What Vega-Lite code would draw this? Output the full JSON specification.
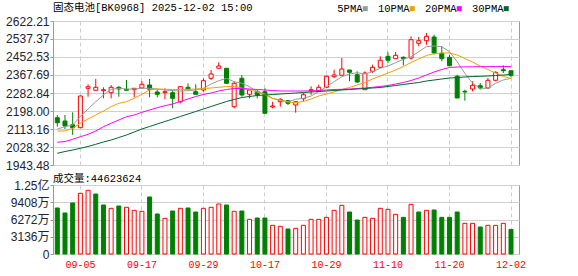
{
  "$schema": "https://vega.github.io/schema/vega-lite/v6.json",
  "padding": {"left": 5, "top": 2, "right": 0, "bottom": 0},
  "background": "white",
  "spacing": 1,
  "datasets": {
    "k": [
      {"d":"09-02","o":2166.4,"h":2179.2,"l":2124.0,"c":2142.8,"v":8363,"vd":"d","5PMA":2113.2,"10PMA":2103.7,"20PMA":2050.5,"30PMA":1998.6},
      {"d":"09-03","o":2150.9,"h":2179.2,"l":2113.2,"c":2127.3,"v":7454,"vd":"d","5PMA":2124.0,"10PMA":2103.7,"20PMA":2054.2,"30PMA":2007.1},
      {"d":"09-04","o":2133.4,"h":2191.9,"l":2084.9,"c":2119.3,"v":9272,"vd":"d","5PMA":2132.0,"10PMA":2116.5,"20PMA":2064.6,"30PMA":2014.2},
      {"d":"09-05","o":2119.3,"h":2271.0,"l":2117.9,"c":2268.7,"v":11030,"vd":"u","5PMA":2171.1,"10PMA":2140.0,"20PMA":2076.9,"30PMA":2022.2},
      {"d":"09-08","o":2305.0,"h":2323.9,"l":2265.4,"c":2312.5,"v":11575,"vd":"u","5PMA":2207.4,"10PMA":2160.3,"20PMA":2088.2,"30PMA":2030.7},
      {"d":"09-09","o":2295.6,"h":2348.8,"l":2295.6,"c":2309.7,"v":10908,"vd":"d","5PMA":2241.8,"10PMA":2179.2,"20PMA":2103.7,"30PMA":2041.1},
      {"d":"09-10","o":2293.7,"h":2309.7,"l":2257.8,"c":2298.4,"v":8908,"vd":"d","5PMA":2273.4,"10PMA":2198.0,"20PMA":2124.0,"30PMA":2051.9},
      {"d":"09-11","o":2284.2,"h":2320.5,"l":2257.8,"c":2309.7,"v":8302,"vd":"u","5PMA":2300.3,"10PMA":2218.3,"20PMA":2140.0,"30PMA":2061.3},
      {"d":"09-12","o":2309.7,"h":2315.8,"l":2265.4,"c":2301.7,"v":8726,"vd":"d","5PMA":2305.0,"10PMA":2234.3,"20PMA":2155.6,"30PMA":2073.1},
      {"d":"09-15","o":2300.3,"h":2344.1,"l":2295.0,"c":2295.6,"v":8484,"vd":"u","5PMA":2301.7,"10PMA":2241.8,"20PMA":2171.1,"30PMA":2084.9},
      {"d":"09-16","o":2298.4,"h":2305.0,"l":2262.6,"c":2305.0,"v":7939,"vd":"u","5PMA":2301.7,"10PMA":2257.9,"20PMA":2179.2,"30PMA":2099.0},
      {"d":"09-17","o":2306.4,"h":2339.4,"l":2306.0,"c":2323.9,"v":7757,"vd":"u","5PMA":2305.0,"10PMA":2276.7,"20PMA":2191.9,"30PMA":2113.2},
      {"d":"09-18","o":2320.5,"h":2348.8,"l":2262.6,"c":2300.3,"v":10363,"vd":"d","5PMA":2305.0,"10PMA":2297.0,"20PMA":2202.7,"30PMA":2124.9},
      {"d":"09-19","o":2287.6,"h":2298.4,"l":2262.6,"c":2276.7,"v":7272,"vd":"d","5PMA":2301.7,"10PMA":2301.7,"20PMA":2213.6,"30PMA":2136.7},
      {"d":"09-22","o":2284.2,"h":2305.0,"l":2253.1,"c":2288.9,"v":6484,"vd":"u","5PMA":2297.0,"10PMA":2300.3,"20PMA":2223.0,"30PMA":2148.5},
      {"d":"09-23","o":2284.2,"h":2297.0,"l":2210.7,"c":2257.8,"v":7817,"vd":"d","5PMA":2293.7,"10PMA":2299.3,"20PMA":2231.0,"30PMA":2160.3},
      {"d":"09-24","o":2241.8,"h":2315.8,"l":2234.3,"c":2312.5,"v":8302,"vd":"u","5PMA":2292.3,"10PMA":2299.3,"20PMA":2242.8,"30PMA":2172.1},
      {"d":"09-25","o":2309.7,"h":2328.6,"l":2301.7,"c":2301.7,"v":8363,"vd":"d","5PMA":2293.7,"10PMA":2300.3,"20PMA":2254.6,"30PMA":2183.9},
      {"d":"09-26","o":2288.9,"h":2323.9,"l":2276.7,"c":2276.7,"v":7636,"vd":"d","5PMA":2297.0,"10PMA":2301.7,"20PMA":2266.4,"30PMA":2195.6},
      {"d":"09-29","o":2297.0,"h":2352.1,"l":2288.9,"c":2340.8,"v":8302,"vd":"u","5PMA":2305.0,"10PMA":2304.1,"20PMA":2275.8,"30PMA":2207.4},
      {"d":"09-30","o":2352.1,"h":2391.2,"l":2344.1,"c":2372.4,"v":8484,"vd":"u","5PMA":2325.3,"10PMA":2306.4,"20PMA":2282.8,"30PMA":2219.2},
      {"d":"10-09","o":2399.3,"h":2427.5,"l":2399.0,"c":2410.1,"v":9090,"vd":"u","5PMA":2340.8,"10PMA":2309.7,"20PMA":2292.3,"30PMA":2231.0},
      {"d":"10-10","o":2399.3,"h":2401.0,"l":2325.3,"c":2328.6,"v":8908,"vd":"d","5PMA":2352.1,"10PMA":2313.5,"20PMA":2299.3,"30PMA":2242.8},
      {"d":"10-13","o":2218.3,"h":2336.1,"l":2210.7,"c":2328.6,"v":7757,"vd":"u","5PMA":2336.1,"10PMA":2313.5,"20PMA":2304.1,"30PMA":2252.2},
      {"d":"10-14","o":2352.1,"h":2367.7,"l":2265.4,"c":2273.4,"v":7817,"vd":"d","5PMA":2328.6,"10PMA":2306.4,"20PMA":2304.1,"30PMA":2261.6},
      {"d":"10-15","o":2276.7,"h":2297.0,"l":2257.8,"c":2297.0,"v":6303,"vd":"u","5PMA":2312.5,"10PMA":2297.0,"20PMA":2301.7,"30PMA":2266.4},
      {"d":"10-16","o":2288.9,"h":2297.0,"l":2257.8,"c":2273.4,"v":6545,"vd":"d","5PMA":2289.0,"10PMA":2287.6,"20PMA":2299.3,"30PMA":2271.1},
      {"d":"10-17","o":2288.9,"h":2305.0,"l":2186.0,"c":2187.2,"v":6545,"vd":"d","5PMA":2278.1,"10PMA":2273.4,"20PMA":2297.0,"30PMA":2273.4},
      {"d":"10-20","o":2216.8,"h":2241.8,"l":2210.7,"c":2221.6,"v":5212,"vd":"u","5PMA":2257.9,"10PMA":2256.9,"20PMA":2294.6,"30PMA":2275.8},
      {"d":"10-21","o":2241.8,"h":2257.8,"l":2218.3,"c":2253.1,"v":5030,"vd":"u","5PMA":2249.9,"10PMA":2247.5,"20PMA":2292.3,"30PMA":2278.1},
      {"d":"10-22","o":2246.5,"h":2249.8,"l":2226.3,"c":2234.3,"v":4545,"vd":"d","5PMA":2241.8,"10PMA":2240.4,"20PMA":2292.3,"30PMA":2280.5},
      {"d":"10-23","o":2226.3,"h":2243.0,"l":2190.0,"c":2241.8,"v":4666,"vd":"u","5PMA":2253.2,"10PMA":2237.1,"20PMA":2292.3,"30PMA":2282.8},
      {"d":"10-24","o":2256.0,"h":2282.8,"l":2243.7,"c":2274.8,"v":5212,"vd":"u","5PMA":2257.9,"10PMA":2242.8,"20PMA":2292.3,"30PMA":2285.2},
      {"d":"10-27","o":2293.7,"h":2314.4,"l":2274.8,"c":2298.4,"v":6303,"vd":"u","5PMA":2268.7,"10PMA":2254.6,"20PMA":2292.3,"30PMA":2287.6},
      {"d":"10-28","o":2293.7,"h":2322.0,"l":2290.8,"c":2309.7,"v":6303,"vd":"u","5PMA":2289.0,"10PMA":2268.7,"20PMA":2294.6,"30PMA":2289.9},
      {"d":"10-29","o":2309.7,"h":2364.4,"l":2306.4,"c":2361.6,"v":6666,"vd":"u","5PMA":2312.5,"10PMA":2278.1,"20PMA":2297.0,"30PMA":2292.3},
      {"d":"10-30","o":2359.7,"h":2392.7,"l":2353.5,"c":2367.7,"v":7939,"vd":"u","5PMA":2336.1,"10PMA":2287.6,"20PMA":2299.3,"30PMA":2294.6},
      {"d":"10-31","o":2366.3,"h":2447.8,"l":2366.0,"c":2396.0,"v":8847,"vd":"u","5PMA":2359.7,"10PMA":2299.3,"20PMA":2300.3,"30PMA":2297.0},
      {"d":"11-03","o":2391.2,"h":2391.2,"l":2338.0,"c":2380.4,"v":7636,"vd":"d","5PMA":2372.4,"10PMA":2308.8,"20PMA":2301.7,"30PMA":2299.3},
      {"d":"11-04","o":2369.1,"h":2385.1,"l":2330.0,"c":2334.7,"v":6181,"vd":"d","5PMA":2378.5,"10PMA":2320.6,"20PMA":2304.1,"30PMA":2301.7},
      {"d":"11-05","o":2298.4,"h":2385.1,"l":2298.0,"c":2377.1,"v":6666,"vd":"u","5PMA":2372.4,"10PMA":2332.3,"20PMA":2306.4,"30PMA":2304.1},
      {"d":"11-06","o":2385.1,"h":2416.2,"l":2377.1,"c":2404.0,"v":6484,"vd":"u","5PMA":2383.2,"10PMA":2348.8,"20PMA":2309.7,"30PMA":2306.4},
      {"d":"11-07","o":2404.0,"h":2455.8,"l":2400.7,"c":2437.0,"v":8302,"vd":"u","5PMA":2399.3,"10PMA":2363.0,"20PMA":2313.5,"30PMA":2308.8},
      {"d":"11-10","o":2455.8,"h":2474.7,"l":2424.0,"c":2437.0,"v":8120,"vd":"u","5PMA":2410.1,"10PMA":2377.1,"20PMA":2318.2,"30PMA":2313.5},
      {"d":"11-11","o":2444.5,"h":2476.1,"l":2444.0,"c":2460.5,"v":7212,"vd":"u","5PMA":2425.7,"10PMA":2391.3,"20PMA":2325.3,"30PMA":2318.2},
      {"d":"11-12","o":2451.1,"h":2455.8,"l":2413.4,"c":2444.5,"v":6666,"vd":"d","5PMA":2441.7,"10PMA":2407.8,"20PMA":2332.3,"30PMA":2322.9},
      {"d":"11-13","o":2447.8,"h":2550.1,"l":2439.8,"c":2534.1,"v":9029,"vd":"u","5PMA":2453.9,"10PMA":2426.6,"20PMA":2341.8,"30PMA":2327.6},
      {"d":"11-14","o":2517.1,"h":2546.8,"l":2503.0,"c":2529.4,"v":7636,"vd":"d","5PMA":2477.5,"10PMA":2443.1,"20PMA":2353.5,"30PMA":2332.3},
      {"d":"11-17","o":2529.4,"h":2565.6,"l":2510.5,"c":2550.1,"v":7939,"vd":"u","5PMA":2501.1,"10PMA":2459.6,"20PMA":2367.7,"30PMA":2339.4},
      {"d":"11-18","o":2546.8,"h":2557.6,"l":2463.4,"c":2471.4,"v":8000,"vd":"d","5PMA":2504.4,"10PMA":2469.0,"20PMA":2381.8,"30PMA":2344.1},
      {"d":"11-19","o":2470.0,"h":2503.0,"l":2432.3,"c":2444.5,"v":6666,"vd":"d","5PMA":2501.1,"10PMA":2471.4,"20PMA":2393.6,"30PMA":2348.8},
      {"d":"11-20","o":2451.1,"h":2463.4,"l":2411.0,"c":2411.5,"v":6666,"vd":"d","5PMA":2477.5,"10PMA":2471.4,"20PMA":2403.0,"30PMA":2353.5},
      {"d":"11-21","o":2361.6,"h":2369.1,"l":2259.0,"c":2259.3,"v":7636,"vd":"d","5PMA":2430.4,"10PMA":2462.0,"20PMA":2405.4,"30PMA":2355.9},
      {"d":"11-24","o":2290.8,"h":2298.4,"l":2246.5,"c":2287.6,"v":5575,"vd":"u","5PMA":2375.7,"10PMA":2445.5,"20PMA":2406.0,"30PMA":2358.3},
      {"d":"11-25","o":2301.7,"h":2338.0,"l":2290.8,"c":2319.1,"v":5575,"vd":"u","5PMA":2328.6,"10PMA":2429.0,"20PMA":2406.5,"30PMA":2360.6},
      {"d":"11-26","o":2317.2,"h":2330.0,"l":2298.4,"c":2306.4,"v":4909,"vd":"d","5PMA":2305.0,"10PMA":2410.1,"20PMA":2407.0,"30PMA":2361.6},
      {"d":"11-27","o":2306.4,"h":2353.5,"l":2303.1,"c":2342.7,"v":5212,"vd":"u","5PMA":2305.0,"10PMA":2393.6,"20PMA":2407.0,"30PMA":2363.0},
      {"d":"11-28","o":2342.7,"h":2385.1,"l":2338.0,"c":2380.4,"v":5212,"vd":"u","5PMA":2328.6,"10PMA":2377.1,"20PMA":2407.5,"30PMA":2365.3},
      {"d":"12-01","o":2392.7,"h":2413.4,"l":2377.1,"c":2388.0,"v":5575,"vd":"u","5PMA":2344.1,"10PMA":2360.6,"20PMA":2407.5,"30PMA":2367.7},
      {"d":"12-02","o":2388.0,"h":2388.0,"l":2356.8,"c":2366.3,"v":4462.36,"vd":"d","5PMA":2352.1,"10PMA":2351.2,"20PMA":2407.5,"30PMA":2370.0}
    ]
  },
  "config": {
    "view": {"stroke": "#999999", "strokeWidth": 1},
    "axis": {
      "title": null,
      "domain": false,
      "gridColor": "#d0d0d0",
      "gridWidth": 1,
      "labelFont": "Liberation Sans",
      "labelFontSize": 12,
      "labelColor": "#222233",
      "tickColor": "#999999",
      "tickSize": 3,
      "labelPadding": 1,
      "labelOverlap": false
    },
    "axisY": {"labelOverlap": false},
    "title": {
      "anchor": "start",
      "frame": "group",
      "font": "Liberation Mono, Noto Sans CJK SC",
      "fontSize": 10.5,
      "fontWeight": "normal",
      "color": "#000000",
      "offset": 2
    },
    "legend": {
      "orient": "none",
      "legendX": 307,
      "legendY": -18,
      "direction": "horizontal",
      "columns": 4,
      "title": null,
      "symbolType": "square",
      "symbolSize": 4,
      "symbolStrokeWidth": 3,
      "labelFont": "Liberation Mono",
      "labelFontSize": 10.5,
      "labelColor": "#000000",
      "labelAlign": "right",
      "labelOffset": -8,
      "columnPadding": 4
    }
  },
  "vconcat": [
    {
      "title": {"text": "固态电池[BK0968] 2025-12-02 15:00"},
      "width": 466,
      "height": 144,
      "data": {"name": "k"},
      "encoding": {
        "x": {
          "field": "d",
          "type": "nominal",
          "scale": {"type": "band", "paddingInner": 0, "paddingOuter": 0.3, "align": 0.1},
          "axis": {
            "orient": "bottom",
            "labels": false,
            "ticks": false,
            "grid": true,
            "gridDash": [4, 3],
            "gridColor": "#cccccc",
            "bandPosition": 0.5,
            "values": ["09-05", "09-17", "09-29", "10-17", "10-29", "11-10", "11-20", "12-02"]
          }
        },
        "y": {
          "field": "l",
          "type": "quantitative",
          "scale": {"domain": [1943.48, 2622.21], "nice": false, "zero": false},
          "axis": {
            "values": [1943.48, 2028.32, 2113.16, 2198.0, 2282.84, 2367.69, 2452.53, 2537.37, 2622.21],
            "format": ".2f",
            "grid": true,
            "labelOverlap": false
          }
        }
      },
      "layer": [
        {
          "mark": {"type": "rule", "strokeWidth": 1},
          "encoding": {
            "y2": {"field": "h"},
            "stroke": {"condition": {"test": "datum.c >= datum.o", "value": "#ff0000"}, "value": "#008000"}
          }
        },
        {
          "mark": {"type": "bar", "width": 4, "strokeWidth": 1},
          "encoding": {
            "y": {"field": "o", "type": "quantitative"},
            "y2": {"field": "c"},
            "fill": {"condition": {"test": "datum.c >= datum.o", "value": "#ffffff"}, "value": "#008000"},
            "stroke": {"condition": {"test": "datum.c >= datum.o", "value": "#ff0000"}, "value": "#008000"}
          }
        },
        {
          "transform": [{"fold": ["5PMA", "10PMA", "20PMA", "30PMA"], "as": ["ma", "val"]}],
          "mark": {"type": "line", "strokeWidth": 1, "interpolate": "linear"},
          "encoding": {
            "y": {"field": "val", "type": "quantitative"},
            "color": {
              "field": "ma",
              "type": "nominal",
              "scale": {"domain": ["5PMA", "10PMA", "20PMA", "30PMA"], "range": ["#999999", "#f0a000", "#ff00ff", "#00662e"]},
              "legend": {}
            }
          }
        }
      ]
    },
    {
      "title": {"text": "成交量:44623624", "offset": -5},
      "width": 466,
      "height": 69,
      "data": {"name": "k"},
      "mark": {"type": "bar", "width": 4, "strokeWidth": 1},
      "encoding": {
        "x": {
          "field": "d",
          "type": "nominal",
          "scale": {"type": "band", "paddingInner": 0, "paddingOuter": 0.3, "align": 0.1},
          "axis": {
            "orient": "bottom",
            "ticks": false,
            "grid": true,
            "gridDash": [4, 3],
            "gridColor": "#cccccc",
            "bandPosition": 0.5,
            "labelAngle": 0,
            "labelFont": "Liberation Mono",
            "labelFontSize": 10,
            "labelColor": "#ff0000",
            "labelPadding": 5,
            "values": ["09-05", "09-17", "09-29", "10-17", "10-29", "11-10", "11-20", "12-02"]
          }
        },
        "y": {
          "field": "v",
          "type": "quantitative",
          "scale": {"domain": [0, 12544], "nice": false},
          "axis": {
            "values": [0, 3136, 6272, 9408, 12544],
            "labelExpr": "datum.value == 0 ? '0' : (datum.value >= 12544 ? '1.25亿' : format(datum.value, 'd') + '万')",
            "grid": true,
            "labelOverlap": false,
            "labelFont": "Liberation Sans, Noto Sans CJK SC"
          }
        },
        "fill": {"condition": {"test": "datum.vd == 'u'", "value": "#ffffff"}, "value": "#008000"},
        "stroke": {"condition": {"test": "datum.vd == 'u'", "value": "#ff0000"}, "value": "#008000"}
      }
    }
  ]
}
